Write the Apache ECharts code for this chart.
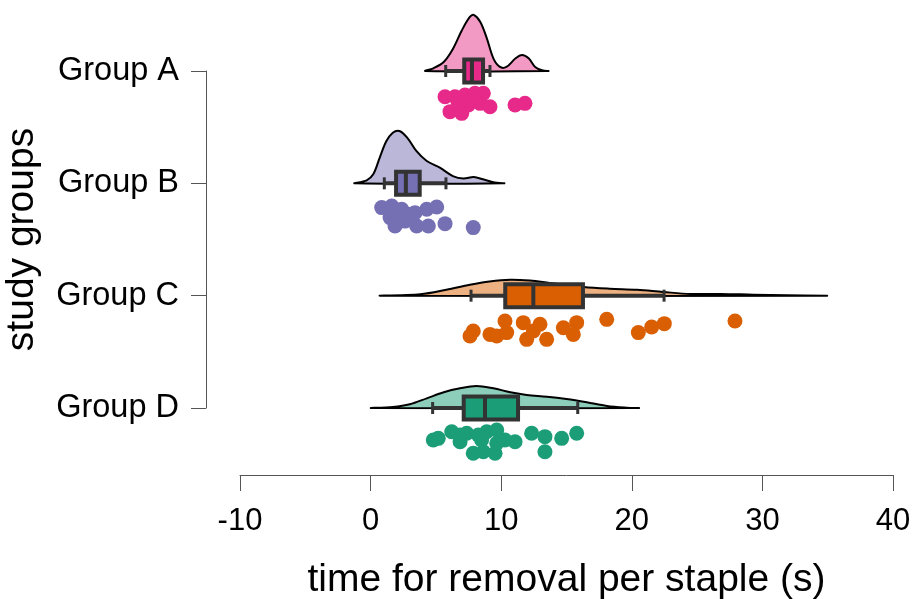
<!DOCTYPE html>
<html>
<head>
<meta charset="utf-8">
<script src="https://cdn.jsdelivr.net/npm/echarts@6/dist/echarts.min.js"></script>
<style>
  html, body { margin: 0; padding: 0; background: #fff; }
  #main { width: 913px; height: 599px; }
</style>
</head>
<body>
<div id="main"></div>
<script>
// groups, top to bottom; position on the value scale
var groups = ['Group A', 'Group B', 'Group C', 'Group D'];
var groupPos = [3, 2, 1, 0];
var pointColors = ['#e7298a', '#7570b3', '#d95f02', '#1b9e77'];
var fillColors = ['#f39ac4', '#bab7d9', '#ecb081', '#8dcebb'];

// x tick labels
var xTicks = [-10, 0, 10, 20, 30, 40];

// density curves: x values and heights (in group units)
var densA_x = [4.2, 4.8, 5.6, 6.3, 7.0, 7.6, 7.9, 8.4, 8.9, 9.4, 9.9, 10.4, 11.1, 11.6, 12.1, 12.6, 13.2, 13.6];
var densA_h = [0, .024, .080, .196, .365, .481, .499, .436, .291, .113, .036, .036, .113, .142, .113, .036, .004, 0];
var densB_x = [-1.2, -0.3, 0.2, 0.7, 1.2, 1.7, 2.2, 2.8, 3.5, 4.3, 5.3, 6.3, 7.1, 7.9, 8.6, 9.4, 10.2];
var densB_h = [0, .027, .080, .229, .374, .451, .466, .407, .288, .199, .140, .065, .042, .056, .036, .009, 0];
var densC_x = [0.85, 3.8, 5.8, 7.6, 9.1, 10.7, 12.2, 13.7, 16.3, 18.3, 20.4, 22.4, 24.5, 26.8, 29.3, 31.9, 34.8];
var densC_h = [0, .013, .053, .098, .127, .142, .134, .113, .077, .062, .053, .033, .015, .015, .009, .004, 0];
var densD_x = [0.1, 1.7, 3.0, 4.3, 5.6, 6.85, 8.1, 9.4, 10.7, 11.95, 13.5, 15.0, 16.55, 18.1, 19.6, 20.5];
var densD_h = [0, .009, .033, .086, .140, .175, .196, .175, .140, .116, .101, .080, .051, .018, .003, 0];

// box stats: min whisker, Q1, median, Q3, max whisker
var boxA = [5.75, 7.17, 7.76, 8.61, 9.14];
var boxB = [1.05, 1.95, 2.70, 3.76, 5.77];
var boxC = [7.69, 10.31, 12.46, 16.26, 22.47];
var boxD = [4.75, 7.13, 8.76, 11.29, 15.86];

// raw points: value and vertical jitter below the group line
var ptsA_x = [5.70, 6.46, 7.23, 7.99, 8.63, 6.08, 6.98, 7.48, 8.38, 9.14, 6.72, 11.06, 11.82];
var ptsA_j = [-.229, -.229, -.214, -.199, -.199, -.362, -.377, -.303, -.288, -.318, -.288, -.303, -.288];
var ptsB_x = [0.85, 1.62, 2.38, 3.40, 4.30, 5.06, 1.49, 1.87, 2.63, 3.53, 4.42, 5.70, 7.86, 2.89, 2.10];
var ptsB_j = [-.216, -.202, -.231, -.261, -.231, -.211, -.305, -.380, -.336, -.380, -.380, -.359, -.394, -.276, -.303];
var ptsC_x = [7.86, 7.61, 9.14, 9.66, 10.29, 10.42, 11.69, 11.95, 12.46, 12.97, 13.48, 14.76, 15.78, 15.52, 18.08, 20.50, 21.52, 22.49, 27.90];
var ptsC_j = [-.314, -.359, -.345, -.359, -.225, -.329, -.240, -.389, -.314, -.255, -.389, -.285, -.240, -.345, -.211, -.329, -.279, -.249, -.225];
var ptsD_x = [4.80, 5.18, 6.21, 6.85, 7.36, 6.85, 8.25, 8.50, 8.89, 9.66, 7.86, 8.63, 9.53, 10.29, 11.06, 9.66, 12.33, 13.35, 13.35, 14.63, 15.78];
var ptsD_j = [-.285, -.270, -.211, -.240, -.225, -.300, -.240, -.285, -.211, -.196, -.403, -.389, -.403, -.285, -.300, -.314, -.225, -.255, -.389, -.270, -.225];

var densX = [densA_x, densB_x, densC_x, densD_x];
var densH = [densA_h, densB_h, densC_h, densD_h];
var boxes = [boxA, boxB, boxC, boxD];
var ptsX = [ptsA_x, ptsB_x, ptsC_x, ptsD_x];
var ptsJ = [ptsA_j, ptsB_j, ptsC_j, ptsD_j];

var myChart = echarts.init(document.getElementById('main'));
var series = [];

groups.forEach(function (g, i) {
  var base = groupPos[i];
  var dens = densX[i].map(function (x, k) { return [x, base + densH[i][k]]; });
  series.push({
    type: 'custom',
    name: g + ' density',
    coordinateSystem: 'cartesian2d',
    data: [0],
    silent: true,
    renderItem: function (params, api) {
      var pts = dens.map(function (d) { return api.coord(d); });
      return {
        type: 'polygon',
        shape: { points: pts, smooth: 0.35 },
        style: { fill: fillColors[i], stroke: '#000', lineWidth: 2 }
      };
    }
  });

  var b = boxes[i];
  series.push({
    type: 'custom',
    name: g + ' box',
    coordinateSystem: 'cartesian2d',
    data: [[base].concat(b)],
    silent: true,
    renderItem: function (params, api) {
      var y = api.value(0);
      var pMin = api.coord([api.value(1), y]);
      var pQ1 = api.coord([api.value(2), y]);
      var pMed = api.coord([api.value(3), y]);
      var pQ3 = api.coord([api.value(4), y]);
      var pMax = api.coord([api.value(5), y]);
      var hh = 11.5;
      var dark = '#333333';
      return {
        type: 'group',
        children: [
          { type: 'line', shape: { x1: pMin[0], y1: pMin[1], x2: pMax[0], y2: pMax[1] },
            style: { stroke: dark, lineWidth: 4 } },
          { type: 'line', shape: { x1: pMin[0], y1: pMin[1] - 6, x2: pMin[0], y2: pMin[1] + 6 },
            style: { stroke: dark, lineWidth: 3 } },
          { type: 'line', shape: { x1: pMax[0], y1: pMax[1] - 6, x2: pMax[0], y2: pMax[1] + 6 },
            style: { stroke: dark, lineWidth: 3 } },
          { type: 'rect', shape: { x: pQ1[0], y: pQ1[1] - hh, width: pQ3[0] - pQ1[0], height: 2 * hh },
            style: { fill: pointColors[i], stroke: dark, lineWidth: 4 } },
          { type: 'line', shape: { x1: pMed[0], y1: pMed[1] - hh, x2: pMed[0], y2: pMed[1] + hh },
            style: { stroke: dark, lineWidth: 4 } }
        ]
      };
    }
  });

  series.push({
    type: 'scatter',
    name: g,
    clip: false,
    symbolSize: 15,
    itemStyle: { color: pointColors[i], opacity: 1 },
    data: ptsX[i].map(function (x, k) { return [x, base + ptsJ[i][k]]; }),
    z: 1
  });
});

var option = {
  animation: false,
  grid: { left: 240, right: 20, top: 71, bottom: 191, containLabel: false, outerBoundsMode: 'none' },
  xAxis: {
    type: 'value',
    min: xTicks[0],
    max: xTicks[xTicks.length - 1],
    interval: 10,
    offset: 67,
    axisLine: { onZero: false, lineStyle: { color: '#555', width: 1 } },
    axisTick: { length: 16, lineStyle: { color: '#555' } },
    axisLabel: { fontFamily: 'Liberation Sans', fontSize: 31, color: '#000', margin: 31 },
    splitLine: { show: false },
    name: 'time for removal per staple (s)',
    nameLocation: 'middle',
    nameGap: 86,
    nameTextStyle: { fontFamily: 'Liberation Sans', fontSize: 39, color: '#000' }
  },
  yAxis: {
    type: 'value',
    min: 0,
    max: 3,
    interval: 1,
    offset: 34,
    axisLine: { show: true, onZero: false, lineStyle: { color: '#555', width: 1 } },
    axisTick: { show: true, length: 15, lineStyle: { color: '#555' } },
    axisLabel: {
      fontFamily: 'Liberation Sans', fontSize: 32.5, color: '#000', margin: 27,
      formatter: function (v) { return groups[groupPos.indexOf(v)] || ''; }
    },
    splitLine: { show: false },
    name: 'study groups',
    nameLocation: 'middle',
    nameGap: 164,
    nameTextStyle: { fontFamily: 'Liberation Sans', fontSize: 39, color: '#000' }
  },
  series: series
};
myChart.setOption(option);
</script>
</body>
</html>
